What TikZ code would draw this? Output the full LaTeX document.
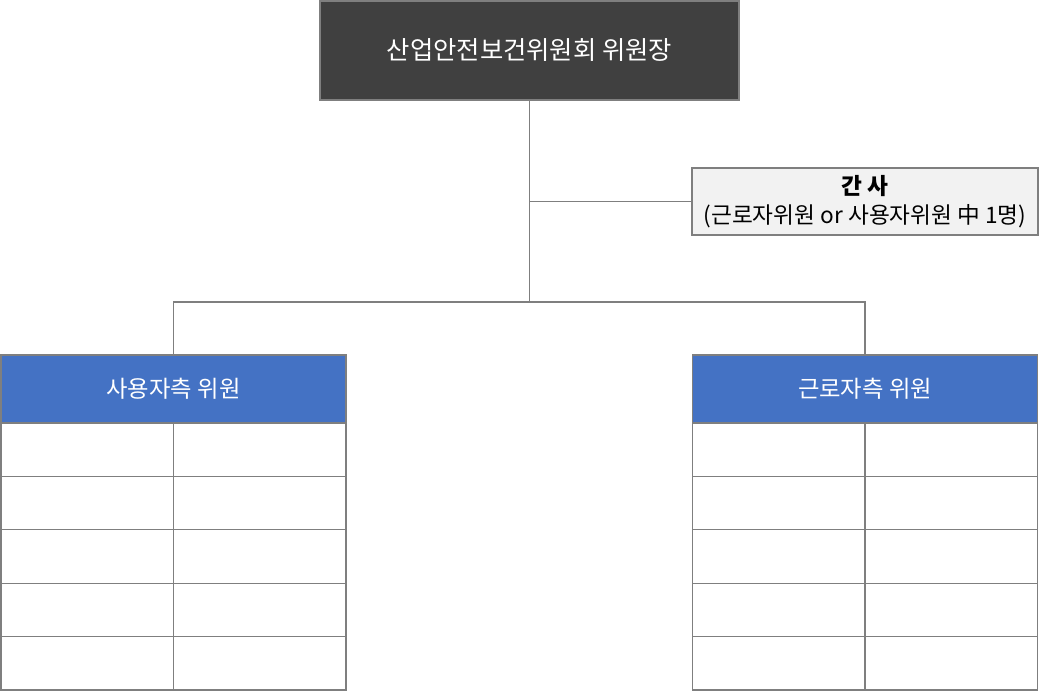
\documentclass[tikz,border=0pt]{standalone}
\usepackage{fontspec}
\setmainfont{Noto Sans CJK KR}
\usetikzlibrary{positioning}
\definecolor{chairgray}{HTML}{404040}
\definecolor{headblue}{HTML}{4472C4}
\definecolor{secgray}{HTML}{F2F2F2}
\definecolor{linegray}{HTML}{7F7F7F}

\begin{document}
\begin{tikzpicture}[x=0.75pt,y=-0.75pt,
  conn/.style={draw=linegray, line width=0.9pt},
  chairbox/.style={fill=chairgray, draw=linegray, line width=0.9pt, text=white,
    minimum width={419*0.75pt}, minimum height={99*0.75pt}, inner sep=0pt,
    font=\fontsize{19}{22}\selectfont},
  secbox/.style={fill=secgray, draw=linegray, line width=0.9pt, align=center,
    minimum width={346*0.75pt}, minimum height={67*0.75pt}, inner sep=0pt,
    font=\fontsize{17}{22}\selectfont},
  headbox/.style={fill=headblue, draw=linegray, line width=0.9pt, text=white,
    minimum width={345*0.75pt}, minimum height={68*0.75pt}, inner sep=0pt,
    font=\fontsize{17.5}{20}\selectfont},
  cellbox/.style={draw=linegray, line width=0.9pt,
    minimum width={172.5*0.75pt}, minimum height={53.4*0.75pt}, inner sep=0pt}]
  \useasboundingbox (0,0) rectangle (1044,694);

  % top and secretary
  \node[chairbox] (chair) at (529.5,50.5) {산업안전보건위원회 위원장};
  \node[secbox] (sec) at (865,201.5) {\textbf{간 사}\\(근로자위원 or 사용자위원 中 1명)};

  % two sides
  \node[headbox] (emp) at (173.5,389) {사용자측 위원};
  \node[headbox] (wrk) at (865,389) {근로자측 위원};

  \foreach \r in {1,...,5}{
    \node[cellbox] (empA\r) at (87.25,{423+(\r-0.5)*53.4}) {};
    \node[cellbox] (empB\r) at (259.75,{423+(\r-0.5)*53.4}) {};
    \node[cellbox] (wrkA\r) at (778.75,{423+(\r-0.5)*53.4}) {};
    \node[cellbox] (wrkB\r) at (951.25,{423+(\r-0.5)*53.4}) {};
  }

  % connectors
  \coordinate (split) at (529.5,302);
  \draw[conn] (chair.south) -- (split);
  \draw[conn] (chair.south |- sec.west) -- (sec.west);
  \draw[conn] (split) -| (emp.north);
  \draw[conn] (split) -| (wrk.north);
\end{tikzpicture}
\end{document}
